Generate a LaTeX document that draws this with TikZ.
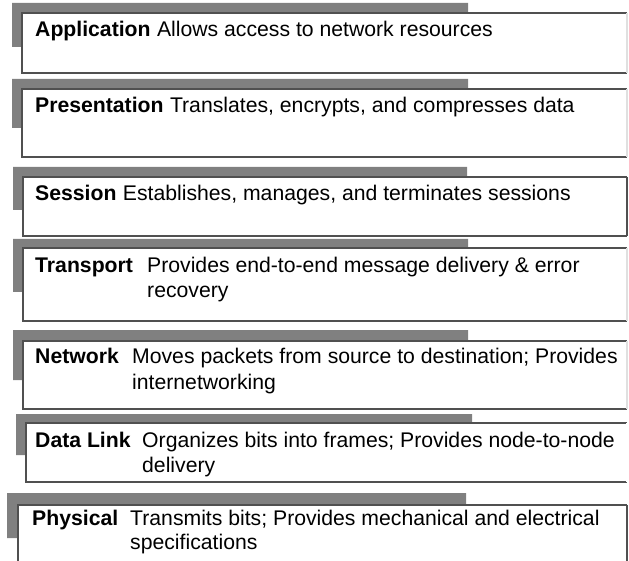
\documentclass[tikz,border=0pt]{standalone}
\usepackage{fontspec}
\setmainfont{Liberation Sans}
\definecolor{bargray}{HTML}{808080}
\definecolor{edgedark}{HTML}{505050}
\definecolor{edgelight}{HTML}{E0E0E0}
\newcommand{\osilayer}[9]{%
  % #1 id, #2 gray left x, #3 gray top y, #4 box left x, #5 box top y,
  % #6 gray right x, #7 gray bottom y, #8 box bottom y, #9 right edge colour
  \fill[bargray] (#2,#3) -- (#6,#3) -- (#6,#5) -- (#4,#5) -- (#4,#7) -- (#2,#7) -- cycle;
  \fill[white] (#4,#5) rectangle (627,#8);
  \draw[edgedark,line width=1.3pt] (627,#5) -- (#4,#5) -- (#4,#8) -- (627,#8);
  \draw[#9,line width=1.1pt] (627,#5) -- (627,#8);
  \coordinate (#1) at (#4,#5);
}
\tikzset{
  lbl/.style={anchor=base west,inner sep=0pt,font=\fontsize{21.2}{25}\selectfont\bfseries},
  desc/.style={anchor=base west,inner sep=0pt,font=\fontsize{21.2}{25}\selectfont}
}
\begin{document}
\begin{tikzpicture}[x=1pt,y=-1pt]
\useasboundingbox[fill=white] (0,0) rectangle (629,561);
\osilayer{app}{12}{3}{22}{13}{468}{47}{73}{edgelight}
\osilayer{pre}{12}{79}{22}{89}{468}{128}{157}{edgelight}
\osilayer{ses}{13}{167}{23}{177}{467}{210}{236}{edgedark}
\osilayer{tra}{13}{239}{23}{248}{468}{292}{321}{edgelight}
\osilayer{net}{13}{330}{23}{341}{468}{380}{409}{edgelight}
\osilayer{dll}{16}{414}{26}{423}{472}{455}{482}{white}
\osilayer{phy}{7}{493}{18}{505}{466}{538}{580}{edgedark}

\node[lbl] (appl) at (35,37) {Application};
\node[desc] (appd) at ([xshift=6pt]appl.base east) {Allows access to network resources};

\node[lbl] (prel) at (35,113) {Presentation};
\node[desc] (pred) at ([xshift=6pt]prel.base east) {Translates, encrypts, and compresses data};

\node[lbl] (sesl) at (35,201) {Session};
\node[desc] (sesd) at ([xshift=6pt]sesl.base east) {Establishes, manages, and terminates sessions};

\node[lbl] (tral) at (35,273) {Transport};
\node[desc] (trad) at (147,273) {Provides end-to-end message delivery \& error};
\node[desc] (trad2) at (147,298) {recovery};

\node[lbl] (netl) at (35,363) {Network};
\node[desc] (netd) at (132,363) {Moves packets from source to destination; Provides};
\node[desc] (netd2) at (132,389) {internetworking};

\node[lbl] (dlll) at (35,447) {Data Link};
\node[desc] (dlld) at (142,447) {Organizes bits into frames; Provides node-to-node};
\node[desc] (dlld2) at (142,472) {delivery};

\node[lbl] (phyl) at (32,525) {Physical};
\node[desc] (phyd) at (130,525) {Transmits bits; Provides mechanical and electrical};
\node[desc] (phyd2) at (130,549) {specifications};
\end{tikzpicture}
\end{document}
